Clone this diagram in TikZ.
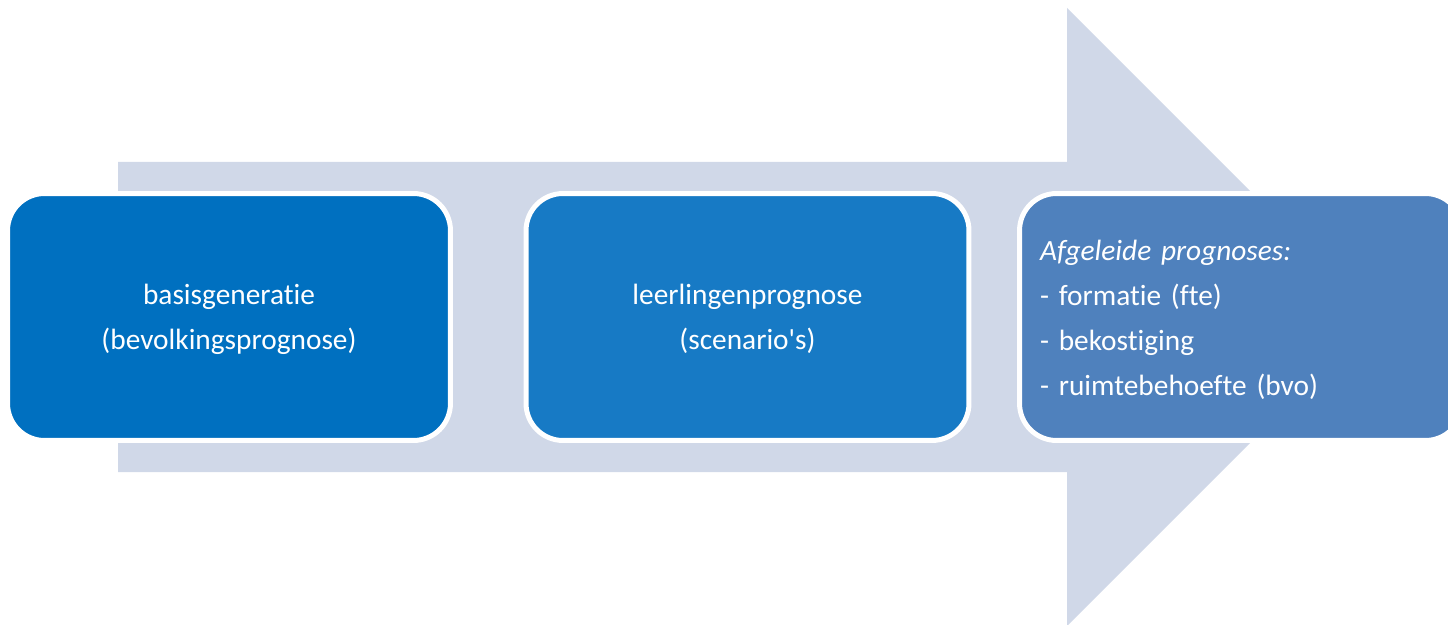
\documentclass[tikz,border=0pt]{standalone}
\usepackage{fontspec}
\newfontfamily\boxfont{Carlito}[RawFeature=-liga]
\definecolor{arrowfill}{HTML}{D0D8E8}
\definecolor{boxa}{HTML}{0070C0}
\definecolor{boxb}{HTML}{177AC5}
\definecolor{boxc}{HTML}{4F81BD}
\begin{document}
\begin{tikzpicture}[x=0.02cm,y=-0.02cm,
  stagebox/.style={draw=white, line width=2.83pt, rounded corners=0.74cm,
    minimum width=8.86cm, minimum height=4.94cm, inner sep=0pt},
  stagetext/.style={inner sep=0pt, text=white,
    font=\boxfont\fontsize{16.7pt}{25.6pt}\selectfont}]
\useasboundingbox (0,0) rectangle (1448,625);
\fill[white] (0,0) rectangle (1448,625);
% big arrow
\fill[arrowfill] (118,162) -- (1067,162) -- (1067,8) -- (1376,317)
  -- (1067,626) -- (1067,472) -- (118,472) -- cycle;
% stages
\node[stagebox, fill=boxa] (basis) at (229,317) {};
\node[stagebox, fill=boxb] (leerling) at (747.5,317) {};
\node[stagebox, fill=boxc] (afgeleid) at (1241,317) {};
\node[stagetext, align=center] (basistxt) at ([yshift=-1.1pt]basis.center)
  {basisgeneratie\\(bevolkingsprognose)};
\node[stagetext, align=center] (leerlingtxt) at ([yshift=-1.1pt]leerling.center)
  {leerlingenprognose\\(scenario's)};
\node[stagetext, text width=8.04cm, align=left] (afgeleidtxt) at ([yshift=-1.4pt]afgeleid.center)
  {\textit{Afgeleide prognoses:}\\- formatie (fte)\\- bekostiging\\- ruimtebehoefte (bvo)};
\end{tikzpicture}
\end{document}
